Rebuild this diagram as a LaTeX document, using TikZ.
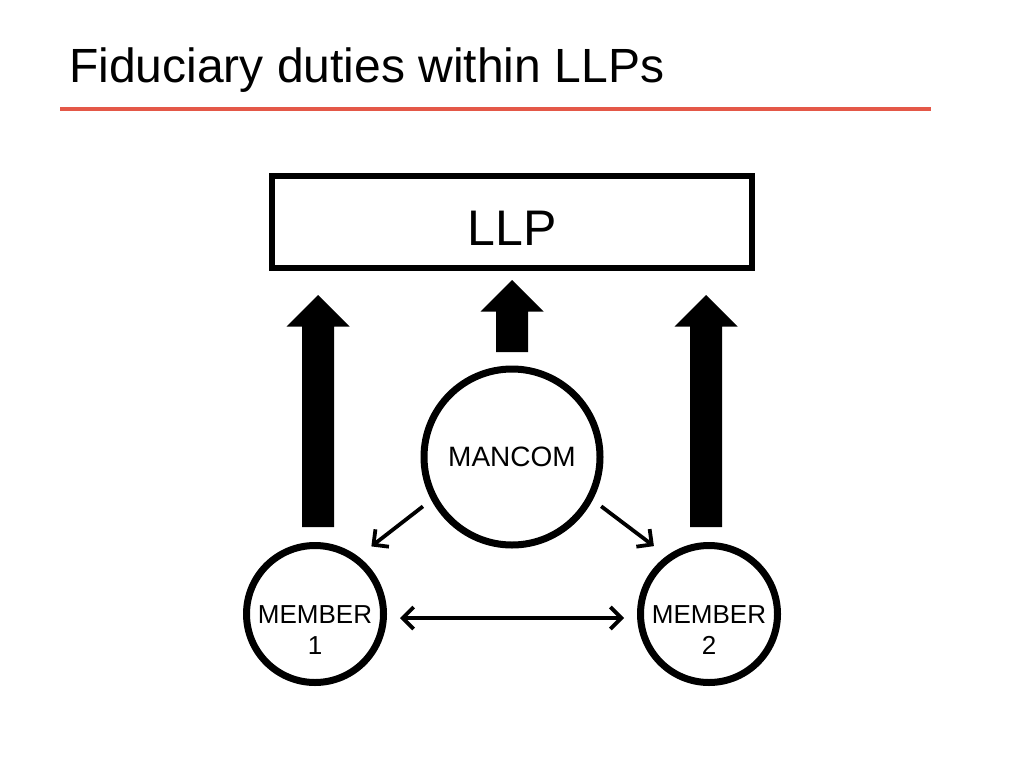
\documentclass[tikz,border=0pt]{standalone}
\usepackage{fontspec}
\setmainfont{Liberation Sans}
\usetikzlibrary{arrows.meta}
\definecolor{rule}{RGB}{228,88,72}
\tikzset{
  ring/.style={circle, draw=black, line width=7pt, inner sep=0pt},
  boxnode/.style={rectangle, draw=black, line width=6pt, minimum width=480pt, minimum height=92pt, inner sep=0pt},
  barbtip/.tip={Straight Barb[length=11pt,width=22pt,line width=3.8pt]},
  thin arrow/.style={line width=3.8pt, -barbtip},
  both arrow/.style={line width=3.8pt, barbtip-barbtip},
  blockarrow/.style={fill=black}
}
\newcommand\upblock[3]{% x, tip y, bottom y
  \fill[blockarrow] (#1,#2) -- (#1+31.5,#2+31.5) -- (#1+16,#2+31.5) -- (#1+16,#3) -- (#1-16,#3) -- (#1-16,#2+31.5) -- (#1-31.5,#2+31.5) -- cycle;}
\begin{document}
\begin{tikzpicture}[x=1pt,y=-1pt]
\useasboundingbox (0,0) rectangle (1024,768);
\node[anchor=base west, inner sep=0pt, font=\fontsize{48}{56}\selectfont] (title) at (69,82) {Fiduciary duties within LLPs};
\draw[rule, line width=3.2pt] (60,109) -- (931,109);

\node[boxnode] (llp) at (512,222) {};
\node[inner sep=0pt, font=\fontsize{50}{60}\selectfont] (llptext) at ([yshift=-6pt]llp.center) {LLP};

\upblock{318}{295}{527}
\upblock{512}{280}{352}
\upblock{706}{295}{527}

\node[ring, minimum size=176pt, font=\fontsize{28}{34}\selectfont] (mancom) at (512,457) {MANCOM};
\node[ring, minimum size=137pt] (m1) at (315,614) {};
\node[ring, minimum size=137pt] (m2) at (709,614) {};
\node[align=center, inner sep=0pt, font=\fontsize{26}{31}\selectfont] (m1text) at ([yshift=-16pt]m1.center) {MEMBER\\1};
\node[align=center, inner sep=0pt, font=\fontsize{26}{31}\selectfont] (m2text) at ([yshift=-16pt]m2.center) {MEMBER\\2};

\draw[thin arrow, shorten <=10.5pt, shorten >=16.5pt] (mancom.208) -- (m1.53);
\draw[thin arrow, shorten <=10.5pt, shorten >=16pt] (mancom.332) -- (m2.126);
\draw[both arrow, shorten <=13pt, shorten >=13pt] ([yshift=-4pt]m1.east) -- ([yshift=-4pt]m2.west);
\end{tikzpicture}
\end{document}
